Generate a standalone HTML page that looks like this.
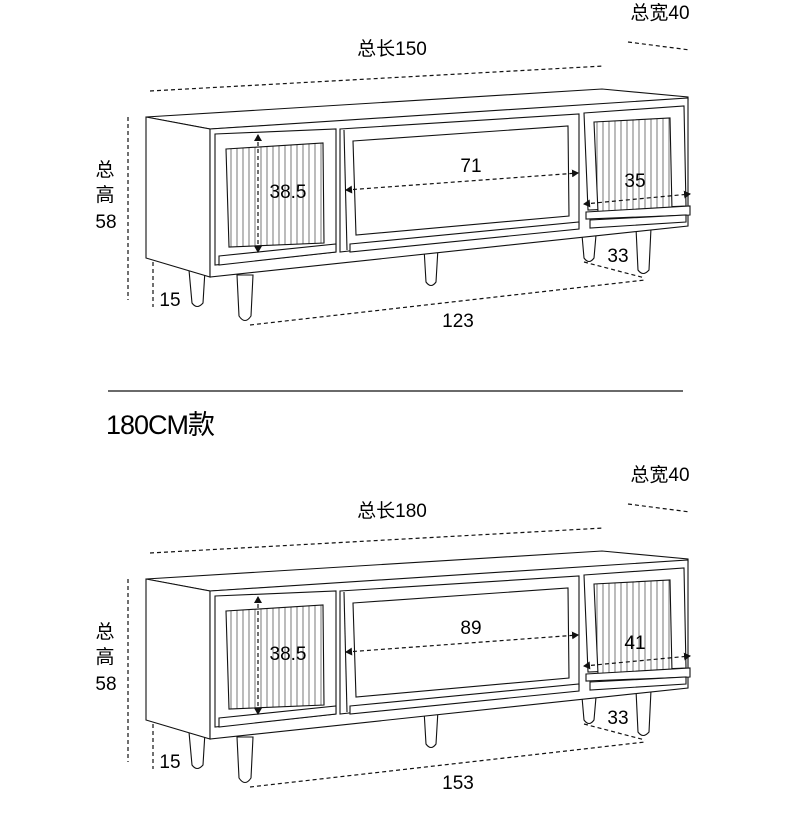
<!DOCTYPE html>
<html><head><meta charset="utf-8"><style>
html,body{margin:0;padding:0;background:#fff;}
svg{display:block}
text{font-family:"Liberation Sans","Noto Sans CJK SC",sans-serif;fill:#000}
</style></head><body>
<svg width="790" height="828" viewBox="0 0 790 828" xmlns="http://www.w3.org/2000/svg">
<defs>
<pattern id="st" patternUnits="userSpaceOnUse" width="6" height="10">
<rect width="6" height="10" fill="#fff"/><line x1="3" y1="0" x2="3" y2="10" stroke="#555" stroke-width="0.8"/>
</pattern>
<marker id="ar" markerWidth="8" markerHeight="8" refX="6" refY="4" orient="auto" markerUnits="userSpaceOnUse"><path d="M0,0 L7,4 L0,8 z" fill="#111"/></marker>
<marker id="al" markerWidth="8" markerHeight="8" refX="1" refY="4" orient="auto" markerUnits="userSpaceOnUse"><path d="M7,0 L0,4 L7,8 z" fill="#111"/></marker>
<g id="cab" fill="#fff" stroke="#111" stroke-width="1.1">
<path d="M189,270 L205,270 L203,303 Q197,310 192,303 Z"/>
<path d="M582,235 L596,235 L594,258 Q589,265 584,258 Z"/>
<path d="M424,248 L438,248 L436,282 Q431,289 426,282 Z"/>
<path d="M636,228 L651,228 L649,270 Q643,277 638,270 Z"/>
<path d="M146,117 L602,89 L688,97 L688,100 L210,129 Z"/>
<path d="M146,117 L210,129 L210,277 L146,258 Z"/>
<path d="M210,129 L688,98 L688,226 L210,277 Z"/>
<path d="M237,275 L253,275 L251,316 Q245,325 239,316 Z"/>
<path d="M215,134 L336,129 L336,252 L215,265 Z"/>
<path d="M219,256 L336,244 L336,252 L219,265 Z"/>
<path d="M226,149 L323,143 L324,243 L229,247 Z" fill="url(#st)"/>
<path d="M340,129 L579,114 L579,225 L340,252 Z"/>
<path d="M344,130 L347,250"/>
<path d="M353,141 L568,126 L569,216 L356,235 Z"/>
<path d="M350,244 L579,222 L579,229 L350,252 Z"/>
<path d="M584,113 L684,106 L686,206 L588,210 Z"/>
<path d="M594,122 L670,118 L672,210 L598,212 Z" fill="url(#st)"/>
<path d="M586,212 L690,206 L690,215 L586,219 Z"/>
<path d="M590,220 L686,215 L686,222 L590,228 Z"/>
</g>
<g id="dims" fill="none" stroke="#111" stroke-width="1.2" stroke-dasharray="4,3">
<line x1="150" y1="91" x2="604" y2="66"/>
<line x1="628" y1="42" x2="690" y2="50"/>
<line x1="128" y1="117" x2="128" y2="300"/>
<line x1="153" y1="262" x2="153" y2="307"/>
<line x1="258" y1="135" x2="258" y2="252" marker-start="url(#al)" marker-end="url(#ar)"/>
<line x1="346" y1="190" x2="578" y2="173" marker-start="url(#al)" marker-end="url(#ar)"/>
<line x1="584" y1="204" x2="690" y2="194" marker-start="url(#al)" marker-end="url(#ar)"/>
<line x1="584" y1="262" x2="645" y2="278"/>
<line x1="250" y1="325" x2="645" y2="280"/>
</g>
</defs>
<use href="#cab"/><use href="#dims"/>
<g transform="translate(0,462)"><use href="#cab"/><use href="#dims"/></g>

<g font-size="19">
<text x="392" y="55" text-anchor="middle">总长150</text>
<text x="660" y="19" text-anchor="middle">总宽40</text>
<text x="105" y="176" text-anchor="middle">总</text>
<text x="105" y="201" text-anchor="middle">高</text>
<text x="106" y="228" text-anchor="middle">58</text>
<text x="170" y="306" text-anchor="middle">15</text>
<text x="288" y="198" text-anchor="middle">38.5</text>
<text x="471" y="172" text-anchor="middle">71</text>
<text x="635" y="187" text-anchor="middle">35</text>
<text x="618" y="262" text-anchor="middle">33</text>
<text x="458" y="327" text-anchor="middle">123</text>
</g>
<line x1="108" y1="391" x2="683" y2="391" stroke="#111" stroke-width="1.2"/>
<text x="106" y="434" font-size="27" letter-spacing="-1">180CM款</text>
<g font-size="19">
<text x="392" y="517" text-anchor="middle">总长180</text>
<text x="660" y="481" text-anchor="middle">总宽40</text>
<text x="105" y="638" text-anchor="middle">总</text>
<text x="105" y="663" text-anchor="middle">高</text>
<text x="106" y="690" text-anchor="middle">58</text>
<text x="170" y="768" text-anchor="middle">15</text>
<text x="288" y="660" text-anchor="middle">38.5</text>
<text x="471" y="634" text-anchor="middle">89</text>
<text x="635" y="649" text-anchor="middle">41</text>
<text x="618" y="724" text-anchor="middle">33</text>
<text x="458" y="789" text-anchor="middle">153</text>
</g>
</svg>
</body></html>
